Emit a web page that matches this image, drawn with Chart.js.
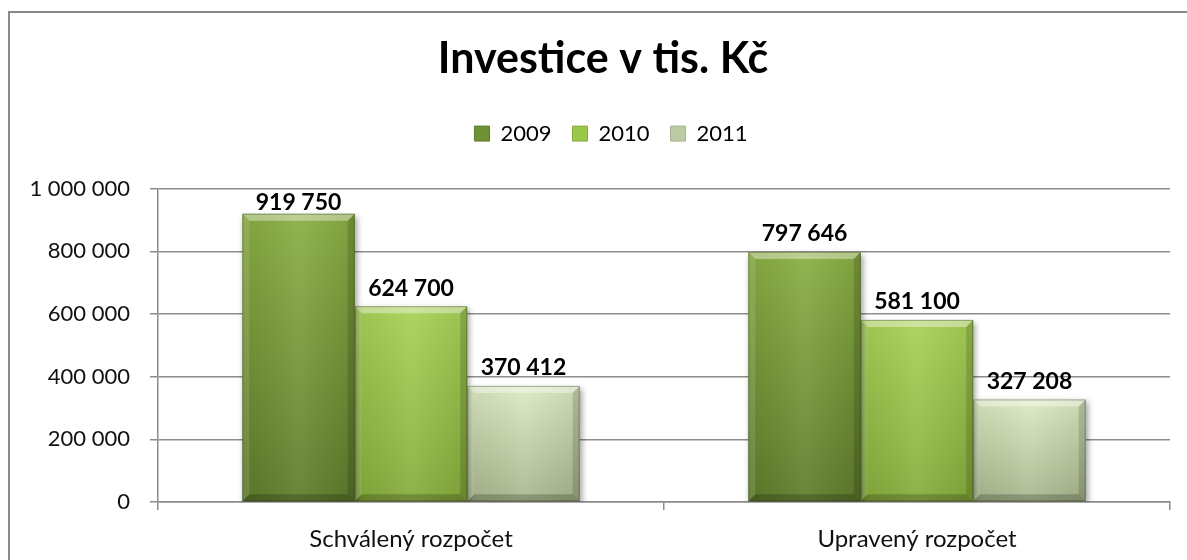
<!DOCTYPE html>
<html><head><meta charset="utf-8">
<script src="https://cdn.jsdelivr.net/npm/chart.js@4.4.0/dist/chart.umd.min.js"></script>
<style>html,body{margin:0;padding:0;background:#fff;}#wrap{width:1187px;height:560px;position:relative;}</style>
</head><body><div id="wrap"><canvas id="c" width="1187" height="560"></canvas></div>
<script>
// ---- data ----
const categories = ['Schválený rozpočet', 'Upravený rozpočet'];
const seriesNames = ['2009', '2010', '2011'];
const values2009 = [919750, 797646];
const values2010 = [624700, 581100];
const values2011 = [370412, 327208];
const yTickValues = [0, 200000, 400000, 600000, 800000, 1000000];
const titleText = 'Investice v tis. Kč';

// ---- style ----
const FONT = 'Lato, "Open Sans", "DejaVu Sans", sans-serif';
const barTop = ['#89ae42', '#a8d256', '#dbeac2'];
const barBottom = ['#5d7b2a', '#84ab3a', '#a7b68c'];
const legendFill = ['#6f9234', '#9cc84a', '#bccaa3'];
const gridColor = '#8c8c8c';

const fmt = n => String(n).replace(/\B(?=(\d{3})+(?!\d))/g, ' ');

function grad(i) {
  return (ctx) => {
    const chart = ctx.chart;
    if (!chart.chartArea || ctx.parsed === undefined) return legendFill[i];
    const ys = chart.scales.y;
    const t = ys.getPixelForValue(ctx.parsed.y);
    const b = ys.getPixelForValue(0);
    const g = chart.ctx.createLinearGradient(0, t, 0, b);
    g.addColorStop(0, barTop[i]);
    g.addColorStop(1, barBottom[i]);
    return g;
  };
}

const seriesValues = [values2009, values2010, values2011];

const borderPlugin = {
  id: 'outerBorder',
  beforeDraw(chart) {
    const c = chart.ctx;
    c.save();
    c.strokeStyle = '#8a8a8a';
    c.lineWidth = 2;
    c.strokeRect(9, 12, 1200, 600);
    c.restore();
  }
};

const shadowPlugin = {
  id: 'barShadow',
  beforeDatasetsDraw(chart) {
    const c = chart.ctx;
    c.save();
    c.shadowColor = 'rgba(0,0,0,0.38)';
    c.shadowBlur = 6;
    c.shadowOffsetX = 2;
    c.shadowOffsetY = 3;
  },
  afterDatasetsDraw(chart) {
    const c = chart.ctx;
    c.restore();
    chart.data.datasets.forEach((ds, di) => {
      const meta = chart.getDatasetMeta(di);
      meta.data.forEach(el => {
        const p = el.getProps(['x', 'y', 'base', 'width'], true);
        const l = p.x - p.width / 2, r = p.x + p.width / 2, t = p.y, b = p.base;
        const bv = 7;
        c.save();
        const hg = c.createLinearGradient(l, 0, r, 0);
        hg.addColorStop(0, 'rgba(0,0,0,0.06)');
        hg.addColorStop(0.5, 'rgba(255,255,255,0.08)');
        hg.addColorStop(1, 'rgba(0,0,0,0.08)');
        c.fillStyle = hg;
        c.fillRect(l, t, r - l, b - t);
        const poly = (pts, col) => {
          c.beginPath();
          c.moveTo(pts[0][0], pts[0][1]);
          for (let k = 1; k < pts.length; k++) c.lineTo(pts[k][0], pts[k][1]);
          c.closePath();
          c.fillStyle = col;
          c.fill();
        };
        poly([[l, t], [r, t], [r - bv, t + bv], [l + bv, t + bv]], 'rgba(255,255,255,0.38)');
        poly([[l, t], [l + bv, t + bv], [l + bv, b - bv], [l, b]], 'rgba(255,255,255,0.12)');
        poly([[r, t], [r - bv, t + bv], [r - bv, b - bv], [r, b]], 'rgba(0,0,0,0.14)');
        poly([[l, b], [l + bv, b - bv], [r - bv, b - bv], [r, b]], 'rgba(0,0,0,0.2)');
        c.strokeStyle = 'rgba(40,50,20,0.35)';
        c.lineWidth = 1;
        c.strokeRect(l + 0.5, t + 0.5, r - l - 1, b - t - 1);
        c.restore();
      });
    });
    c.save();
    c.font = 'bold 23px ' + FONT;
    c.fillStyle = '#000';
    c.textAlign = 'center';
    c.textBaseline = 'middle';
    chart.data.datasets.forEach((ds, di) => {
      const meta = chart.getDatasetMeta(di);
      meta.data.forEach((el, j) => {
        const y = Math.max(el.y - 18, chart.chartArea.top + 14);
        c.fillText(fmt(ds.data[j]), el.x, y);
      });
    });
    c.restore();
  }
};

const boxTweaks = {
  id: 'boxTweaks',
  beforeInit(chart) {
    const lg = chart.legend;
    if (lg) {
      const orig = lg.fit;
      lg.fit = function () { orig.call(this); this.height += 34; };
    }
  },
  afterLayout(chart) {
    if (chart.titleBlock) { chart.titleBlock.left += 18; chart.titleBlock.right += 18; }
    if (chart.legend) { chart.legend.left += 26; chart.legend.right += 26; }
  }
};

new Chart(document.getElementById('c'), {
  type: 'bar',
  data: {
    labels: categories,
    datasets: seriesNames.map((name, i) => ({
      label: name,
      data: seriesValues[i],
      backgroundColor: grad(i),
      borderWidth: 0,
      categoryPercentage: 3 / 4.5,
      barPercentage: 1.0
    }))
  },
  options: {
    responsive: false,
    animation: false,
    devicePixelRatio: 1,
    layout: { padding: { top: 0, left: 0, right: 17, bottom: 0 } },
    plugins: {
      tooltip: { enabled: false },
      title: {
        display: true,
        text: titleText,
        color: '#000',
        font: { family: FONT, size: 43, weight: 'bold' },
        padding: { top: 33, bottom: 17 }
      },
      legend: {
        display: true,
        position: 'top',
        labels: {
          color: '#000',
          font: { family: FONT, size: 22 },
          boxWidth: 15,
          boxHeight: 15,
          padding: 21,
          generateLabels(chart) {
            const items = Chart.defaults.plugins.legend.labels.generateLabels(chart);
            items.forEach((it, i) => {
              it.fillStyle = legendFill[i];
              it.strokeStyle = barBottom[i];
              it.lineWidth = 1;
            });
            return items;
          }
        }
      }
    },
    scales: {
      x: {
        offset: true,
        afterFit(axis) { axis.height = 58; },
        grid: { offset: true, drawOnChartArea: false, drawTicks: true, tickLength: 8, color: gridColor, lineWidth: 1.5 },
        border: { display: true, color: gridColor, width: 1.5 },
        ticks: { color: '#111', font: { family: FONT, size: 24 }, padding: 15 }
      },
      y: {
        min: 0,
        max: 1000000,
        afterBuildTicks(axis) { axis.ticks = yTickValues.map(v => ({ value: v })); },
        afterFit(axis) { axis.width = 158; },
        grid: { color: gridColor, lineWidth: 1.5, tickLength: 8, drawTicks: true },
        border: { display: true, color: gridColor, width: 1.5 },
        ticks: { color: '#111', font: { family: FONT, size: 22 }, padding: 20, callback: v => fmt(v) }
      }
    }
  },
  plugins: [borderPlugin, shadowPlugin, boxTweaks]
});
</script>
</body></html>
